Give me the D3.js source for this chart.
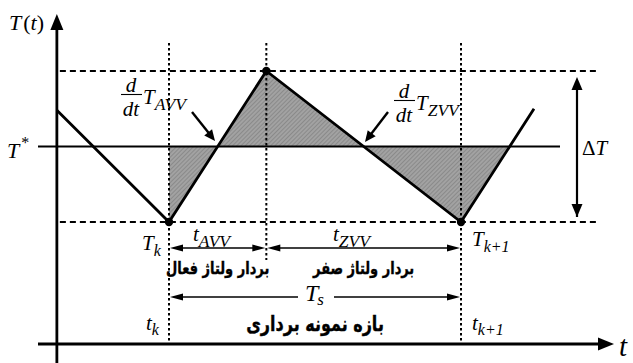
<!DOCTYPE html>
<html>
<head>
<meta charset="utf-8">
<script src="https://cdn.jsdelivr.net/npm/d3@7"></script>
<style>
  html, body { margin: 0; padding: 0; background: #fff; }
  svg { display: block; }
  .math { font-family: "Liberation Serif", "DejaVu Serif", serif; font-style: italic; fill: #000; }
  .up { font-style: normal; }
  .fa { font-family: "DejaVu Sans", sans-serif; font-weight: bold; fill: #000; }
</style>
</head>
<body>
<svg id="chart" width="633" height="363"></svg>
<script>
// Temperature waveform over one sampling period (time normalised so that t_k = 0, t_{k+1} = 1)
const waveTimes  = [-0.384, 0, 1/3, 1, 1.25];
const waveValues = [0.48, -1, 1, -1, 0.5];

// Reference level and band limits (T_k at the bottom, peak at the top)
const refLevel   = 0;        // T*
const bandLevels = [-1, 1];  // lower / upper dashed guides

// Switching instants: t_k, end of the active vector, t_{k+1}
const instants = [0, 1/3, 1];

// Text
const activeLabel = "بردار ولتاژ فعال";
const zeroLabel   = "بردار ولتاژ صفر";
const periodLabel = "بازه نمونه برداری";

const svg = d3.select("#chart");
const x = d3.scaleLinear().domain([0, 1]).range([169, 461]);
const y = d3.scaleLinear().domain([-1, 1]).range([222, 71]);

const axisX = x(waveTimes[0]);   // vertical axis position
const axisY = 344;               // time axis position

// ---------- hatch pattern for the shaded error area ----------
const defs = svg.append("defs");
const pat = defs.append("pattern")
  .attr("id", "hatch").attr("patternUnits", "userSpaceOnUse")
  .attr("width", 3).attr("height", 3)
  .attr("patternTransform", "rotate(45)");
pat.append("rect").attr("width", 3).attr("height", 3).attr("fill", "#a2a2a2");
pat.append("line").attr("x1", 0).attr("y1", 0).attr("x2", 0).attr("y2", 3)
  .attr("stroke", "#7a7a7a").attr("stroke-width", 1.2);

// ---------- shaded area between waveform and T* ----------
const wave = waveTimes.map((t, i) => ({ t, v: waveValues[i] }));
function valueAt(t) {
  for (let i = 0; i < wave.length - 1; i++) {
    const a = wave[i], b = wave[i + 1];
    if (t >= a.t && t <= b.t) return a.v + (b.v - a.v) * (t - a.t) / (b.t - a.t);
  }
  return NaN;
}
// first crossing of T* after t_{k+1}
let tEnd = instants[2];
for (let i = 0; i < wave.length - 1; i++) {
  const a = wave[i], b = wave[i + 1];
  if (a.t >= instants[2] && (a.v - refLevel) * (b.v - refLevel) <= 0 && a.v !== b.v) {
    tEnd = a.t + (refLevel - a.v) * (b.t - a.t) / (b.v - a.v);
    break;
  }
}
const shadePts = [{ t: instants[0], v: valueAt(instants[0]) }]
  .concat(wave.filter(p => p.t > instants[0] && p.t < tEnd))
  .concat([{ t: tEnd, v: valueAt(tEnd) }]);
svg.append("path")
  .attr("d", d3.area().x(d => x(d.t)).y0(y(refLevel)).y1(d => y(d.v))(shadePts))
  .attr("fill", "url(#hatch)");

// ---------- guides ----------
bandLevels.forEach(v => {
  svg.append("line")
    .attr("x1", axisX + 3).attr("x2", 597)
    .attr("y1", y(v)).attr("y2", y(v))
    .attr("stroke", "#000").attr("stroke-width", 2.2)
    .attr("stroke-dasharray", "6,4");
});
instants.forEach((t, i) => {
  svg.append("line")
    .attr("x1", x(t)).attr("x2", x(t))
    .attr("y1", 43).attr("y2", i === 1 ? 260 : axisY)
    .attr("stroke", "#000").attr("stroke-width", 2)
    .attr("stroke-dasharray", "2.5,2.5");
});

// T* reference line
svg.append("line")
  .attr("x1", 38).attr("x2", 560)
  .attr("y1", y(refLevel)).attr("y2", y(refLevel))
  .attr("stroke", "#000").attr("stroke-width", 2.2);

// ---------- helpers for arrowheads ----------
function head(tipX, tipY, angle, len, half) {
  const c = Math.cos(angle), s = Math.sin(angle);
  const bx = tipX - c * len, by = tipY - s * len;
  return `M${tipX},${tipY}L${bx - s * half},${by + c * half}L${bx + s * half},${by - c * half}Z`;
}
function arrow(x1, y1, x2, y2, w, len, half) {
  const ang = Math.atan2(y2 - y1, x2 - x1);
  svg.append("line").attr("x1", x1).attr("y1", y1)
    .attr("x2", x2 - Math.cos(ang) * len * 0.8).attr("y2", y2 - Math.sin(ang) * len * 0.8)
    .attr("stroke", "#000").attr("stroke-width", w);
  svg.append("path").attr("d", head(x2, y2, ang, len, half)).attr("fill", "#000");
}

// ---------- axes ----------
svg.append("line").attr("x1", axisX).attr("x2", axisX).attr("y1", 363).attr("y2", 26)
  .attr("stroke", "#000").attr("stroke-width", 2.8);
svg.append("path").attr("d", head(axisX, 14, -Math.PI / 2, 16, 6.5)).attr("fill", "#000");
svg.append("line").attr("x1", 38).attr("x2", 602).attr("y1", axisY).attr("y2", axisY)
  .attr("stroke", "#000").attr("stroke-width", 2.8);
svg.append("path").attr("d", head(614, axisY, 0, 16, 6.5)).attr("fill", "#000");

// ---------- waveform ----------
svg.append("path")
  .attr("d", d3.line().x(d => x(d.t)).y(d => y(d.v))(wave))
  .attr("fill", "none").attr("stroke", "#000").attr("stroke-width", 2.8)
  .attr("stroke-linejoin", "miter");
[1, 2, 3].forEach(i => {
  svg.append("circle").attr("cx", x(wave[i].t)).attr("cy", y(wave[i].v)).attr("r", 4.2).attr("fill", "#000");
});

// ΔT double arrow
arrow(577, y(bandLevels[0]) - 5, 577, y(bandLevels[1]) + 6, 2.2, 13, 5.5);
svg.append("path").attr("d", head(577, y(bandLevels[0]) - 5, Math.PI / 2, 13, 5.5)).attr("fill", "#000");

// pointer arrows to the slopes
arrow(192, 112, 215, 141, 2.4, 11, 5);
arrow(388, 112, 365, 142, 2.4, 11, 5);

// interval arrows
const yInt = 248, yPer = 297;
function dbl(xa, xb, yy) {
  svg.append("line").attr("x1", xa + 8).attr("x2", xb - 8).attr("y1", yy).attr("y2", yy)
    .attr("stroke", "#000").attr("stroke-width", 1.6);
  svg.append("path").attr("d", head(xa, yy, Math.PI, 13, 3.5)).attr("fill", "#000");
  svg.append("path").attr("d", head(xb, yy, 0, 13, 3.5)).attr("fill", "#000");
}
dbl(x(instants[0]) + 1, x(instants[1]) - 1, yInt);
dbl(x(instants[1]) + 1, x(instants[2]) - 1, yInt);
// period arrow with a gap for T_s
const midP = (x(instants[0]) + x(instants[2])) / 2;
svg.append("line").attr("x1", x(instants[0]) + 8).attr("x2", midP - 17).attr("y1", yPer).attr("y2", yPer)
  .attr("stroke", "#000").attr("stroke-width", 1.6);
svg.append("line").attr("x1", midP + 19).attr("x2", x(instants[2]) - 8).attr("y1", yPer).attr("y2", yPer)
  .attr("stroke", "#000").attr("stroke-width", 1.6);
svg.append("path").attr("d", head(x(instants[0]) + 1, yPer, Math.PI, 13, 3.5)).attr("fill", "#000");
svg.append("path").attr("d", head(x(instants[2]) - 1, yPer, 0, 13, 3.5)).attr("fill", "#000");

// ---------- text ----------
function sym(px, py, main, sub, size, subSize, subDx, subDy) {
  const t = svg.append("text").attr("class", "math").attr("x", px).attr("y", py).attr("font-size", size);
  t.append("tspan").text(main);
  if (sub) t.append("tspan").attr("font-size", subSize).attr("dx", subDx || 0).attr("dy", subDy).text(sub);
  return t;
}
// T(t)
const tt = svg.append("text").attr("class", "math").attr("x", 9).attr("y", 30).attr("font-size", 22);
tt.append("tspan").text("T");
tt.append("tspan").attr("class", "up").attr("dx", 2).text("(");
tt.append("tspan").text("t");
tt.append("tspan").attr("class", "up").text(")");

// T*
sym(7, 158, "T", "*", 22, 16, 2, -10).select("tspan:last-child").attr("class", "up");

// d/dt T_sub
function deriv(cx, by, subText) {
  svg.append("text").attr("class", "math").attr("x", cx).attr("y", by).attr("text-anchor", "middle")
    .attr("font-size", 21).text("d");
  svg.append("line").attr("x1", cx - 10).attr("x2", cx + 11).attr("y1", by + 2.5).attr("y2", by + 2.5)
    .attr("stroke", "#000").attr("stroke-width", 1.1);
  svg.append("text").attr("class", "math").attr("x", cx).attr("y", by + 24).attr("text-anchor", "middle")
    .attr("font-size", 21).text("dt");
  sym(cx + 12, by + 12, "T", subText, 21, 17.5, 0, 6);
}
deriv(131, 92, "AVV");
deriv(404, 98, "ZVV");

// interval symbols
sym(142, 250, "T", "k", 21, 16, 0, 6);
sym(472, 246, "T", "k+1", 21, 16, 0, 6);
sym(193, 241, "t", "AVV", 21, 17.5, 0, 6);
sym(333, 241, "t", "ZVV", 21, 17.5, 0, 6);
sym(305, 301, "T", "s", 24, 17, -1, 4);
sym(146, 330, "t", "k", 21, 16, 0, 5);
sym(472, 330, "t", "k+1", 21, 16, 0, 5);

// ΔT
const dT = svg.append("text").attr("class", "math").attr("x", 582).attr("y", 155).attr("font-size", 21);
dT.append("tspan").attr("class", "up").text("Δ");
dT.append("tspan").text("T");

// time axis label
svg.append("text").attr("class", "math").attr("x", 619).attr("y", 356).attr("font-size", 29).text("t");

// Persian labels (slightly stretched vertically to the heavier face)
function faLabel(cx, base, size, txt) {
  svg.append("g").attr("transform", `translate(${cx},${base}) scale(1,1.3)`)
    .append("text").attr("class", "fa").attr("x", 0).attr("y", 0)
    .attr("text-anchor", "middle").attr("font-size", size).attr("direction", "rtl")
    .attr("stroke", "#000").attr("stroke-width", 0.3).text(txt);
}
faLabel((x(instants[0]) + x(instants[1])) / 2, 274, 13, activeLabel);
faLabel((x(instants[1]) + x(instants[2])) / 2, 274, 13, zeroLabel);
faLabel(midP, 331, 16, periodLabel);
</script>
</body>
</html>
